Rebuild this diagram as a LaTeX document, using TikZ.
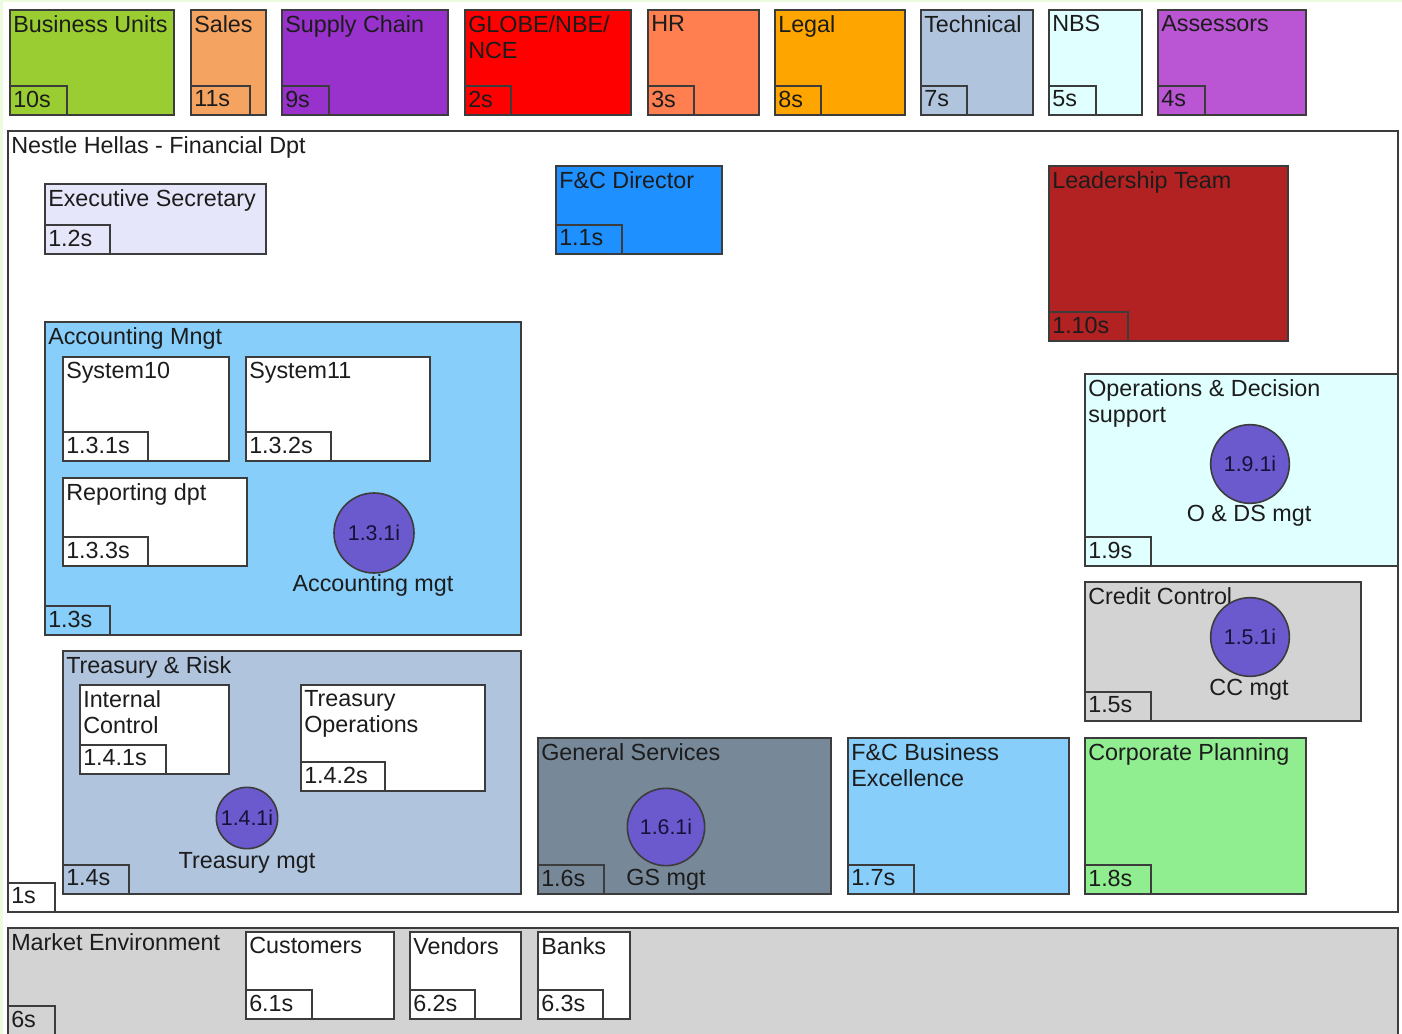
\documentclass[tikz,border=0pt]{standalone}
\usepackage{fontspec}
\setmainfont{Liberation Sans}
\usetikzlibrary{fit}

% palette
\definecolor{cYellowGreen}{HTML}{9ACD32}
\definecolor{cSandy}{HTML}{F4A460}
\definecolor{cDarkOrchid}{HTML}{9932CC}
\definecolor{cRed}{HTML}{FF0000}
\definecolor{cCoral}{HTML}{FF7F50}
\definecolor{cOrange}{HTML}{FFA500}
\definecolor{cSteel}{HTML}{B0C4DE}
\definecolor{cCyan}{HTML}{E0FFFF}
\definecolor{cMedOrchid}{HTML}{BA55D3}
\definecolor{cLavender}{HTML}{E6E6FA}
\definecolor{cDodger}{HTML}{1E90FF}
\definecolor{cFirebrick}{HTML}{B22222}
\definecolor{cSky}{HTML}{87CEFA}
\definecolor{cSlateGray}{HTML}{778899}
\definecolor{cLightGreen}{HTML}{90EE90}
\definecolor{cGray}{HTML}{D3D3D3}
\definecolor{cSlateBlue}{HTML}{6A5ACD}
\definecolor{cBorder}{HTML}{3C3C3C}
\definecolor{cInk}{HTML}{1C1C1C}
\definecolor{cBubbleInk}{HTML}{15123A}
\definecolor{cEdge}{HTML}{ECFBDD}

\tikzset{
  unitbox/.style={draw=cBorder, line width=1.4pt, inner sep=0pt, outer sep=0pt},
  tagbox/.style={draw=cBorder, line width=1.4pt, inner sep=0pt, outer sep=0pt},
  titletext/.style={anchor=north west, inner sep=0pt, align=left, text=cInk,
    font=\fontsize{17.5}{19.5}\selectfont},
  tagtext/.style={anchor=north west, inner sep=0pt, text=cInk,
    font=\fontsize{17.5}{19.5}\selectfont},
  ibubble/.style={circle, draw=cBorder, line width=1.2pt, fill=cSlateBlue,
    inner sep=0pt, minimum size=59pt, text=cBubbleInk,
    font=\fontsize{16}{18}\selectfont},
  bubblelabel/.style={inner sep=0pt, text=cInk, font=\fontsize{17.5}{19.5}\selectfont},
}

% #1 name, #2 x1, #3 y1, #4 x2, #5 y2, #6 fill, #7 title, #8 tag text, #9 tag right edge
\newcommand\orgunit[9]{%
  \node[unitbox, fill=#6, fit={(#2,#3) (#4,#5)}] (#1) {};
  \node[tagbox, fit={(#2,#5-29) (#9,#5)}] (#1-tag) {};
  \node[titletext] (#1-title) at (#2+3,#3+5) {#7};
  \node[tagtext] (#1-tagtext) at (#2+3,#5-24.5) {#8};
}

\begin{document}
\begin{tikzpicture}[x=0.75pt, y=-0.75pt]
\useasboundingbox (0,0) rectangle (1402,1034);
\clip (0,0) rectangle (1402,1034);
\fill[white] (0,0) rectangle (1402,1034);
\fill[cEdge] (0,0) rectangle (3,1034);
\fill[cEdge] (0,0) rectangle (1402,2);

% external units
\orgunit{bu}{10}{10}{174}{115}{cYellowGreen}{Business Units}{10s}{67}
\orgunit{sales}{191}{10}{266}{115}{cSandy}{Sales}{11s}{250}
\orgunit{supply}{282}{10}{448}{115}{cDarkOrchid}{Supply Chain}{9s}{329}
\orgunit{globe}{465}{10}{631}{115}{cRed}{GLOBE/NBE/\\NCE}{2s}{511}
\orgunit{hr}{648}{10}{759}{115}{cCoral}{HR}{3s}{694}
\orgunit{legal}{775}{10}{905}{115}{cOrange}{Legal}{8s}{821}
\orgunit{tech}{921}{10}{1033}{115}{cSteel}{Technical}{7s}{967}
\orgunit{nbs}{1049}{10}{1142}{115}{cCyan}{NBS}{5s}{1096}
\orgunit{assess}{1158}{10}{1306}{115}{cMedOrchid}{Assessors}{4s}{1205}

% financial department
\orgunit{fin}{8}{131}{1398}{912}{white}{Nestle Hellas - Financial Dpt}{1s}{55}
\orgunit{exec}{45}{184}{266}{254}{cLavender}{Executive Secretary}{1.2s}{110}
\orgunit{fcdir}{556}{166}{722}{254}{cDodger}{F\&C Director}{1.1s}{622}
\orgunit{lead}{1049}{166}{1288}{341}{cFirebrick}{Leadership Team}{1.10s}{1128}

% accounting
\orgunit{acc}{45}{322}{521}{635}{cSky}{Accounting Mngt}{1.3s}{110}
\orgunit{sys10}{63}{357}{229}{461}{white}{System10}{1.3.1s}{148}
\orgunit{sys11}{246}{357}{430}{461}{white}{System11}{1.3.2s}{331}
\orgunit{rep}{63}{478}{247}{566}{white}{Reporting dpt}{1.3.3s}{148}
\node[ibubble, minimum size=60pt] (acci) at (374,533) {1.3.1i};
\node[bubblelabel] (acci-label) at (373,585) {Accounting mgt};

% treasury
\orgunit{tr}{63}{651}{521}{894}{cSteel}{Treasury \& Risk}{1.4s}{129}
\orgunit{ic}{80}{685}{229}{774}{white}{Internal\\Control}{1.4.1s}{166}
\orgunit{trops}{301}{685}{485}{791}{white}{Treasury\\Operations}{1.4.2s}{385}
\node[ibubble, minimum size=46pt] (tri) at (247,818) {1.4.1i};
\node[bubblelabel] (tri-label) at (247,863) {Treasury mgt};

% lower row
\orgunit{gs}{538}{738}{831}{894}{cSlateGray}{General Services}{1.6s}{604}
\node[ibubble, minimum size=58pt] (gsi) at (666,827) {1.6.1i};
\node[bubblelabel] (gsi-label) at (666,880) {GS mgt};
\orgunit{fcbe}{848}{738}{1069}{894}{cSky}{F\&C Business\\Excellence}{1.7s}{914}
\orgunit{cp}{1085}{738}{1306}{894}{cLightGreen}{Corporate Planning}{1.8s}{1151}

% right column
\orgunit{ods}{1085}{374}{1398}{566}{cCyan}{Operations \& Decision\\support}{1.9s}{1151}
\node[ibubble] (odsi) at (1250,464) {1.9.1i};
\node[bubblelabel] (odsi-label) at (1249,516) {O \& DS mgt};
\orgunit{cc}{1085}{582}{1361}{721}{cGray}{Credit Control}{1.5s}{1151}
\node[ibubble] (cci) at (1250,637) {1.5.1i};
\node[bubblelabel] (cci-label) at (1249,690) {CC mgt};

% market environment
\orgunit{mkt}{8}{928}{1398}{1035}{cGray}{Market Environment}{6s}{55}
\orgunit{cust}{246}{932}{394}{1019}{white}{Customers}{6.1s}{312}
\orgunit{vend}{410}{932}{521}{1019}{white}{Vendors}{6.2s}{475}
\orgunit{bank}{538}{932}{630}{1019}{white}{Banks}{6.3s}{603}
\end{tikzpicture}
\end{document}
